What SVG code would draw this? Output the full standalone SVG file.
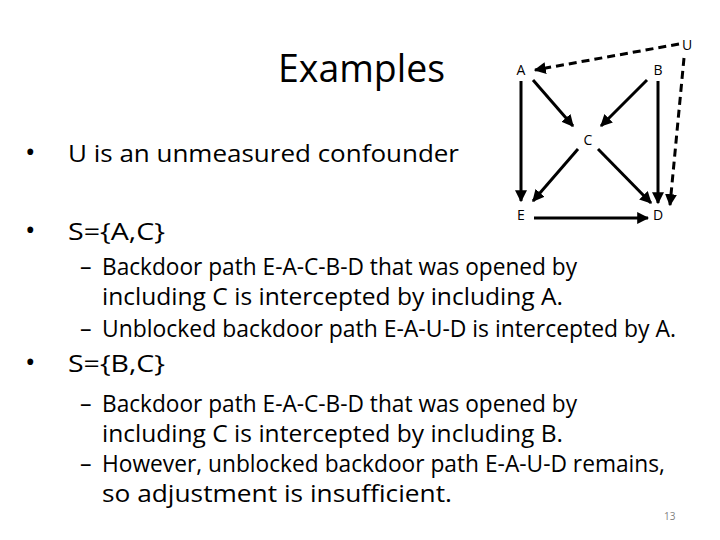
<svg xmlns="http://www.w3.org/2000/svg" width="720" height="540" viewBox="0 0 720 540">
<style>
.t{font-family:"Open Sans","Liberation Sans",sans-serif;fill:#000}
.b{font-size:23px}
.n{font-size:14px;text-anchor:middle}
.e{stroke:#000;stroke-width:3;fill:none;marker-end:url(#ar)}
.d{stroke-dasharray:8,5}
</style>
<defs><marker id="ar" viewBox="0 0 10 10" refX="9" refY="5" markerWidth="4" markerHeight="4" orient="auto" markerUnits="strokeWidth"><path d="M0,0L10,5L0,10z"/></marker></defs>
<rect width="720" height="540" fill="#fff"/>
<text class="t" x="278" y="82" font-size="38" textLength="167" lengthAdjust="spacingAndGlyphs">Examples</text>
<g id="text">
<text class="t" x="25" y="162" font-size="28">•</text><text class="t b" x="68" y="162" textLength="391" lengthAdjust="spacingAndGlyphs">U is an unmeasured confounder</text>
<text class="t" x="25" y="240" font-size="28">•</text><text class="t b" x="68" y="240" textLength="97" lengthAdjust="spacingAndGlyphs">S={A,C}</text>
<text class="t b" x="80" y="275">–</text><text class="t b" x="102" y="275" textLength="475" lengthAdjust="spacingAndGlyphs">Backdoor path E-A-C-B-D that was opened by</text>
<text class="t b" x="102" y="305" textLength="461" lengthAdjust="spacingAndGlyphs">including C is intercepted by including A.</text>
<text class="t b" x="80" y="337">–</text><text class="t b" x="102" y="337" textLength="574" lengthAdjust="spacingAndGlyphs">Unblocked backdoor path E-A-U-D is intercepted by A.</text>
<text class="t" x="25" y="372" font-size="28">•</text><text class="t b" x="68" y="372" textLength="97" lengthAdjust="spacingAndGlyphs">S={B,C}</text>
<text class="t b" x="80" y="412">–</text><text class="t b" x="102" y="412" textLength="475" lengthAdjust="spacingAndGlyphs">Backdoor path E-A-C-B-D that was opened by</text>
<text class="t b" x="102" y="442" textLength="461" lengthAdjust="spacingAndGlyphs">including C is intercepted by including B.</text>
<text class="t b" x="80" y="472">–</text><text class="t b" x="102" y="472" textLength="563" lengthAdjust="spacingAndGlyphs">However, unblocked backdoor path E-A-U-D remains,</text>
<text class="t b" x="102" y="502" textLength="350" lengthAdjust="spacingAndGlyphs">so adjustment is insufficient.</text>
<text class="t" x="664" y="520" font-size="10" style="fill:#7f7f7f">13</text>
</g>
<g id="nA"><text class="t n" x="521" y="75">A</text></g>
<g id="nB"><text class="t n" x="658" y="75">B</text></g>
<g id="nU"><text class="t n" x="687" y="50">U</text></g>
<g id="nC"><text class="t n" x="588" y="145">C</text></g>
<g id="nE"><text class="t n" x="521" y="220">E</text></g>
<g id="nD"><text class="t n" x="658" y="220">D</text></g>
<g id="edges">
<path class="e" d="M521,81V201"/>
<path class="e" d="M533,80L573,126"/>
<path class="e" d="M647,80L601,126"/>
<path class="e" d="M658,81V203"/>
<path class="e" d="M578,149L533,201"/>
<path class="e" d="M598,149L651,203"/>
<path class="e" d="M534,218H648"/>
<path class="e d" d="M679,44L535,70"/>
<path class="e d" d="M684,58L670,205"/>
</g>
</svg>
